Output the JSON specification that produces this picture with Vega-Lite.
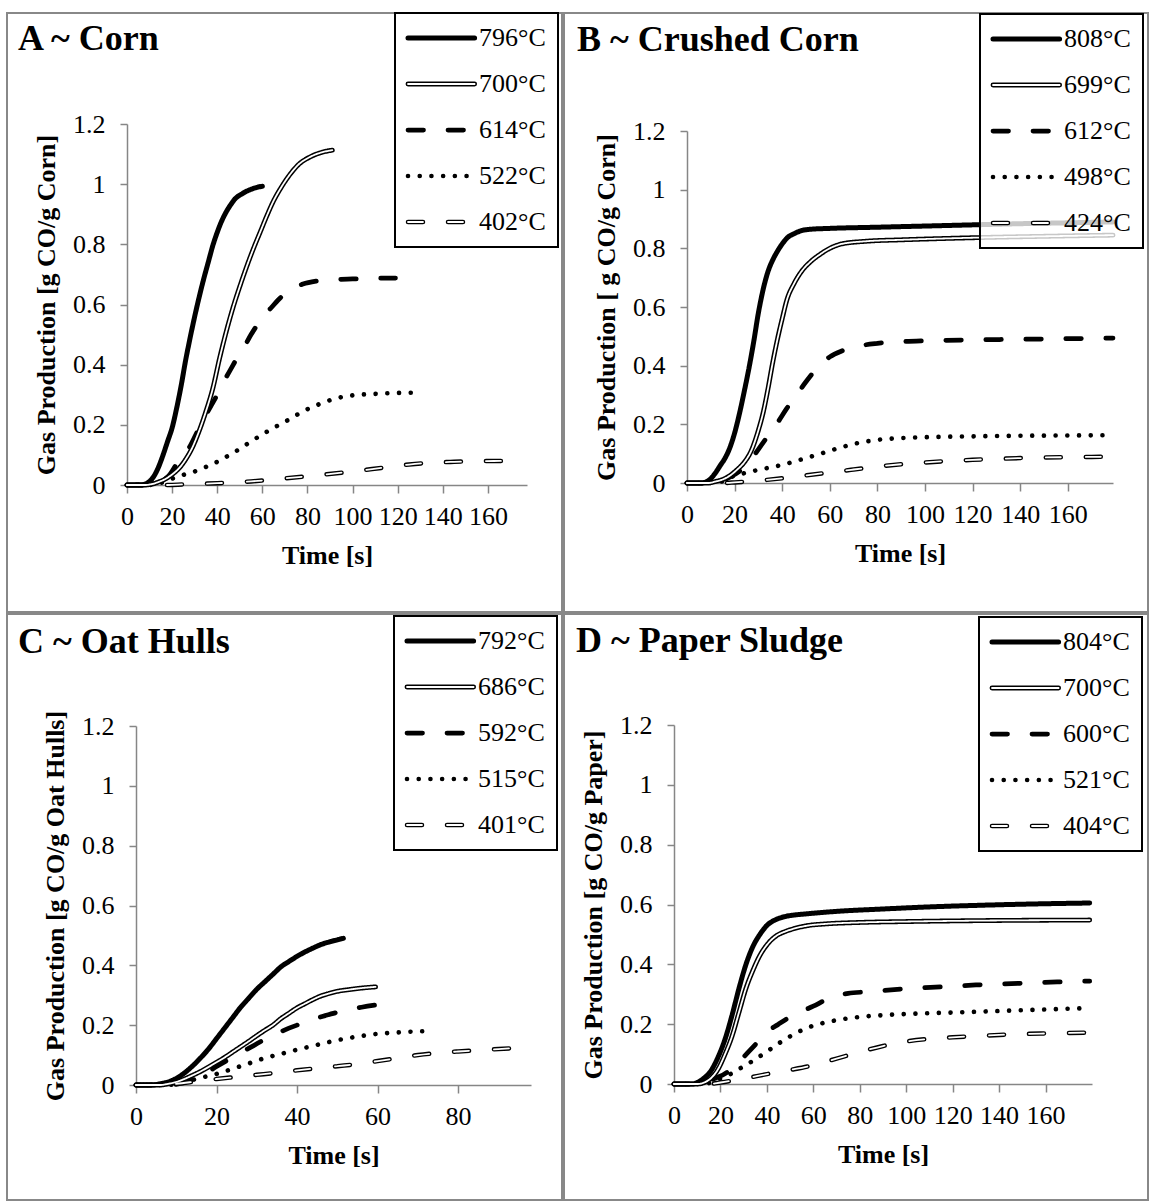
{
"$schema": "https://vega.github.io/schema/vega-lite/v6.json",
"padding": {"left": 6, "top": 11, "right": 0, "bottom": 0},
"background": "white",
"data": {"name": "gas"},
"datasets": {"gas": [
{"p":"A","s":"796°C","t":0,"v":0},{"p":"A","s":"796°C","t":6,"v":0},{"p":"A","s":"796°C","t":8,"v":0.003},{"p":"A","s":"796°C","t":10,"v":0.012},{"p":"A","s":"796°C","t":12,"v":0.03},{"p":"A","s":"796°C","t":14,"v":0.06},{"p":"A","s":"796°C","t":16,"v":0.1},{"p":"A","s":"796°C","t":18,"v":0.145},{"p":"A","s":"796°C","t":20,"v":0.19},{"p":"A","s":"796°C","t":22,"v":0.255},{"p":"A","s":"796°C","t":24,"v":0.33},{"p":"A","s":"796°C","t":26,"v":0.415},{"p":"A","s":"796°C","t":28,"v":0.49},{"p":"A","s":"796°C","t":30,"v":0.56},{"p":"A","s":"796°C","t":32,"v":0.625},{"p":"A","s":"796°C","t":34,"v":0.685},{"p":"A","s":"796°C","t":36,"v":0.74},{"p":"A","s":"796°C","t":38,"v":0.795},{"p":"A","s":"796°C","t":40,"v":0.84},{"p":"A","s":"796°C","t":42,"v":0.878},{"p":"A","s":"796°C","t":44,"v":0.908},{"p":"A","s":"796°C","t":46,"v":0.932},{"p":"A","s":"796°C","t":48,"v":0.952},{"p":"A","s":"796°C","t":51,"v":0.968},{"p":"A","s":"796°C","t":54,"v":0.98},{"p":"A","s":"796°C","t":57,"v":0.988},{"p":"A","s":"796°C","t":60,"v":0.993},
{"p":"A","s":"700°C","t":0,"v":0},{"p":"A","s":"700°C","t":8,"v":0},{"p":"A","s":"700°C","t":11,"v":0.003},{"p":"A","s":"700°C","t":14,"v":0.01},{"p":"A","s":"700°C","t":17,"v":0.02},{"p":"A","s":"700°C","t":20,"v":0.035},{"p":"A","s":"700°C","t":23,"v":0.055},{"p":"A","s":"700°C","t":26,"v":0.085},{"p":"A","s":"700°C","t":29,"v":0.125},{"p":"A","s":"700°C","t":32,"v":0.18},{"p":"A","s":"700°C","t":35,"v":0.245},{"p":"A","s":"700°C","t":38,"v":0.32},{"p":"A","s":"700°C","t":41,"v":0.42},{"p":"A","s":"700°C","t":44,"v":0.51},{"p":"A","s":"700°C","t":47,"v":0.59},{"p":"A","s":"700°C","t":50,"v":0.66},{"p":"A","s":"700°C","t":53,"v":0.725},{"p":"A","s":"700°C","t":56,"v":0.785},{"p":"A","s":"700°C","t":59,"v":0.84},{"p":"A","s":"700°C","t":62,"v":0.895},{"p":"A","s":"700°C","t":65,"v":0.945},{"p":"A","s":"700°C","t":68,"v":0.985},{"p":"A","s":"700°C","t":72,"v":1.03},{"p":"A","s":"700°C","t":76,"v":1.065},{"p":"A","s":"700°C","t":81,"v":1.09},{"p":"A","s":"700°C","t":86,"v":1.105},{"p":"A","s":"700°C","t":91,"v":1.113},
{"p":"A","s":"614°C","t":0,"v":0},{"p":"A","s":"614°C","t":10,"v":0},{"p":"A","s":"614°C","t":13,"v":0.005},{"p":"A","s":"614°C","t":16,"v":0.015},{"p":"A","s":"614°C","t":19,"v":0.035},{"p":"A","s":"614°C","t":22,"v":0.07},{"p":"A","s":"614°C","t":25,"v":0.1},{"p":"A","s":"614°C","t":28,"v":0.13},{"p":"A","s":"614°C","t":31,"v":0.175},{"p":"A","s":"614°C","t":34,"v":0.22},{"p":"A","s":"614°C","t":37,"v":0.26},{"p":"A","s":"614°C","t":40,"v":0.3},{"p":"A","s":"614°C","t":43,"v":0.345},{"p":"A","s":"614°C","t":46,"v":0.385},{"p":"A","s":"614°C","t":49,"v":0.425},{"p":"A","s":"614°C","t":52,"v":0.46},{"p":"A","s":"614°C","t":55,"v":0.5},{"p":"A","s":"614°C","t":58,"v":0.535},{"p":"A","s":"614°C","t":61,"v":0.565},{"p":"A","s":"614°C","t":64,"v":0.59},{"p":"A","s":"614°C","t":67,"v":0.615},{"p":"A","s":"614°C","t":70,"v":0.635},{"p":"A","s":"614°C","t":74,"v":0.655},{"p":"A","s":"614°C","t":78,"v":0.668},{"p":"A","s":"614°C","t":84,"v":0.678},{"p":"A","s":"614°C","t":92,"v":0.683},{"p":"A","s":"614°C","t":100,"v":0.685},{"p":"A","s":"614°C","t":110,"v":0.687},{"p":"A","s":"614°C","t":119,"v":0.688},
{"p":"A","s":"522°C","t":0,"v":0},{"p":"A","s":"522°C","t":10,"v":0},{"p":"A","s":"522°C","t":14,"v":0.005},{"p":"A","s":"522°C","t":18,"v":0.015},{"p":"A","s":"522°C","t":22,"v":0.027},{"p":"A","s":"522°C","t":26,"v":0.036},{"p":"A","s":"522°C","t":30,"v":0.045},{"p":"A","s":"522°C","t":35,"v":0.06},{"p":"A","s":"522°C","t":40,"v":0.077},{"p":"A","s":"522°C","t":45,"v":0.098},{"p":"A","s":"522°C","t":50,"v":0.12},{"p":"A","s":"522°C","t":55,"v":0.145},{"p":"A","s":"522°C","t":60,"v":0.168},{"p":"A","s":"522°C","t":65,"v":0.19},{"p":"A","s":"522°C","t":70,"v":0.21},{"p":"A","s":"522°C","t":75,"v":0.232},{"p":"A","s":"522°C","t":80,"v":0.252},{"p":"A","s":"522°C","t":85,"v":0.268},{"p":"A","s":"522°C","t":90,"v":0.282},{"p":"A","s":"522°C","t":95,"v":0.292},{"p":"A","s":"522°C","t":100,"v":0.298},{"p":"A","s":"522°C","t":110,"v":0.303},{"p":"A","s":"522°C","t":120,"v":0.306},{"p":"A","s":"522°C","t":129,"v":0.307},
{"p":"A","s":"402°C","t":0,"v":0},{"p":"A","s":"402°C","t":18,"v":0},{"p":"A","s":"402°C","t":25,"v":0.002},{"p":"A","s":"402°C","t":40,"v":0.006},{"p":"A","s":"402°C","t":55,"v":0.012},{"p":"A","s":"402°C","t":70,"v":0.022},{"p":"A","s":"402°C","t":85,"v":0.033},{"p":"A","s":"402°C","t":100,"v":0.045},{"p":"A","s":"402°C","t":115,"v":0.059},{"p":"A","s":"402°C","t":125,"v":0.068},{"p":"A","s":"402°C","t":135,"v":0.074},{"p":"A","s":"402°C","t":145,"v":0.077},{"p":"A","s":"402°C","t":155,"v":0.079},{"p":"A","s":"402°C","t":169,"v":0.08},
{"p":"B","s":"808°C","t":0,"v":0},{"p":"B","s":"808°C","t":6,"v":0},{"p":"B","s":"808°C","t":8,"v":0.004},{"p":"B","s":"808°C","t":10,"v":0.015},{"p":"B","s":"808°C","t":12,"v":0.035},{"p":"B","s":"808°C","t":14,"v":0.06},{"p":"B","s":"808°C","t":16,"v":0.085},{"p":"B","s":"808°C","t":18,"v":0.12},{"p":"B","s":"808°C","t":20,"v":0.17},{"p":"B","s":"808°C","t":22,"v":0.235},{"p":"B","s":"808°C","t":24,"v":0.31},{"p":"B","s":"808°C","t":26,"v":0.39},{"p":"B","s":"808°C","t":28,"v":0.48},{"p":"B","s":"808°C","t":30,"v":0.58},{"p":"B","s":"808°C","t":32,"v":0.66},{"p":"B","s":"808°C","t":34,"v":0.72},{"p":"B","s":"808°C","t":36,"v":0.76},{"p":"B","s":"808°C","t":38,"v":0.79},{"p":"B","s":"808°C","t":40,"v":0.815},{"p":"B","s":"808°C","t":42,"v":0.835},{"p":"B","s":"808°C","t":45,"v":0.85},{"p":"B","s":"808°C","t":48,"v":0.86},{"p":"B","s":"808°C","t":52,"v":0.865},{"p":"B","s":"808°C","t":60,"v":0.868},{"p":"B","s":"808°C","t":80,"v":0.872},{"p":"B","s":"808°C","t":100,"v":0.876},{"p":"B","s":"808°C","t":120,"v":0.88},{"p":"B","s":"808°C","t":140,"v":0.884},{"p":"B","s":"808°C","t":160,"v":0.887},{"p":"B","s":"808°C","t":179,"v":0.89},
{"p":"B","s":"699°C","t":0,"v":0},{"p":"B","s":"699°C","t":9,"v":0},{"p":"B","s":"699°C","t":12,"v":0.005},{"p":"B","s":"699°C","t":15,"v":0.012},{"p":"B","s":"699°C","t":18,"v":0.025},{"p":"B","s":"699°C","t":21,"v":0.045},{"p":"B","s":"699°C","t":24,"v":0.07},{"p":"B","s":"699°C","t":27,"v":0.11},{"p":"B","s":"699°C","t":30,"v":0.18},{"p":"B","s":"699°C","t":32,"v":0.24},{"p":"B","s":"699°C","t":34,"v":0.32},{"p":"B","s":"699°C","t":36,"v":0.41},{"p":"B","s":"699°C","t":38,"v":0.49},{"p":"B","s":"699°C","t":40,"v":0.56},{"p":"B","s":"699°C","t":42,"v":0.625},{"p":"B","s":"699°C","t":45,"v":0.68},{"p":"B","s":"699°C","t":48,"v":0.72},{"p":"B","s":"699°C","t":52,"v":0.755},{"p":"B","s":"699°C","t":56,"v":0.78},{"p":"B","s":"699°C","t":60,"v":0.8},{"p":"B","s":"699°C","t":65,"v":0.815},{"p":"B","s":"699°C","t":75,"v":0.824},{"p":"B","s":"699°C","t":90,"v":0.829},{"p":"B","s":"699°C","t":110,"v":0.834},{"p":"B","s":"699°C","t":130,"v":0.838},{"p":"B","s":"699°C","t":150,"v":0.841},{"p":"B","s":"699°C","t":179,"v":0.845},
{"p":"B","s":"612°C","t":0,"v":0},{"p":"B","s":"612°C","t":10,"v":0},{"p":"B","s":"612°C","t":14,"v":0.005},{"p":"B","s":"612°C","t":18,"v":0.02},{"p":"B","s":"612°C","t":22,"v":0.04},{"p":"B","s":"612°C","t":26,"v":0.07},{"p":"B","s":"612°C","t":30,"v":0.115},{"p":"B","s":"612°C","t":34,"v":0.16},{"p":"B","s":"612°C","t":38,"v":0.205},{"p":"B","s":"612°C","t":42,"v":0.255},{"p":"B","s":"612°C","t":46,"v":0.3},{"p":"B","s":"612°C","t":50,"v":0.345},{"p":"B","s":"612°C","t":55,"v":0.395},{"p":"B","s":"612°C","t":60,"v":0.43},{"p":"B","s":"612°C","t":65,"v":0.45},{"p":"B","s":"612°C","t":70,"v":0.463},{"p":"B","s":"612°C","t":80,"v":0.476},{"p":"B","s":"612°C","t":90,"v":0.482},{"p":"B","s":"612°C","t":100,"v":0.485},{"p":"B","s":"612°C","t":120,"v":0.488},{"p":"B","s":"612°C","t":140,"v":0.49},{"p":"B","s":"612°C","t":160,"v":0.492},{"p":"B","s":"612°C","t":179,"v":0.494},
{"p":"B","s":"498°C","t":0,"v":0},{"p":"B","s":"498°C","t":12,"v":0},{"p":"B","s":"498°C","t":16,"v":0.01},{"p":"B","s":"498°C","t":20,"v":0.025},{"p":"B","s":"498°C","t":25,"v":0.035},{"p":"B","s":"498°C","t":30,"v":0.045},{"p":"B","s":"498°C","t":35,"v":0.053},{"p":"B","s":"498°C","t":40,"v":0.062},{"p":"B","s":"498°C","t":45,"v":0.073},{"p":"B","s":"498°C","t":50,"v":0.085},{"p":"B","s":"498°C","t":55,"v":0.097},{"p":"B","s":"498°C","t":60,"v":0.11},{"p":"B","s":"498°C","t":65,"v":0.122},{"p":"B","s":"498°C","t":70,"v":0.133},{"p":"B","s":"498°C","t":75,"v":0.141},{"p":"B","s":"498°C","t":80,"v":0.147},{"p":"B","s":"498°C","t":90,"v":0.153},{"p":"B","s":"498°C","t":100,"v":0.156},{"p":"B","s":"498°C","t":120,"v":0.159},{"p":"B","s":"498°C","t":140,"v":0.161},{"p":"B","s":"498°C","t":160,"v":0.162},{"p":"B","s":"498°C","t":179,"v":0.163},
{"p":"B","s":"424°C","t":0,"v":0},{"p":"B","s":"424°C","t":15,"v":0},{"p":"B","s":"424°C","t":20,"v":0.002},{"p":"B","s":"424°C","t":30,"v":0.008},{"p":"B","s":"424°C","t":40,"v":0.016},{"p":"B","s":"424°C","t":50,"v":0.026},{"p":"B","s":"424°C","t":60,"v":0.036},{"p":"B","s":"424°C","t":70,"v":0.046},{"p":"B","s":"424°C","t":80,"v":0.056},{"p":"B","s":"424°C","t":90,"v":0.064},{"p":"B","s":"424°C","t":100,"v":0.07},{"p":"B","s":"424°C","t":110,"v":0.075},{"p":"B","s":"424°C","t":120,"v":0.079},{"p":"B","s":"424°C","t":130,"v":0.082},{"p":"B","s":"424°C","t":140,"v":0.085},{"p":"B","s":"424°C","t":150,"v":0.087},{"p":"B","s":"424°C","t":160,"v":0.088},{"p":"B","s":"424°C","t":170,"v":0.089},{"p":"B","s":"424°C","t":179,"v":0.09},
{"p":"C","s":"792°C","t":0,"v":0},{"p":"C","s":"792°C","t":4,"v":0},{"p":"C","s":"792°C","t":6,"v":0.004},{"p":"C","s":"792°C","t":8,"v":0.01},{"p":"C","s":"792°C","t":10,"v":0.022},{"p":"C","s":"792°C","t":12,"v":0.04},{"p":"C","s":"792°C","t":14,"v":0.063},{"p":"C","s":"792°C","t":16,"v":0.09},{"p":"C","s":"792°C","t":18,"v":0.12},{"p":"C","s":"792°C","t":20,"v":0.155},{"p":"C","s":"792°C","t":22,"v":0.19},{"p":"C","s":"792°C","t":24,"v":0.225},{"p":"C","s":"792°C","t":26,"v":0.26},{"p":"C","s":"792°C","t":28,"v":0.29},{"p":"C","s":"792°C","t":30,"v":0.32},{"p":"C","s":"792°C","t":32,"v":0.345},{"p":"C","s":"792°C","t":34,"v":0.37},{"p":"C","s":"792°C","t":36,"v":0.395},{"p":"C","s":"792°C","t":38,"v":0.413},{"p":"C","s":"792°C","t":40,"v":0.43},{"p":"C","s":"792°C","t":42,"v":0.445},{"p":"C","s":"792°C","t":44,"v":0.458},{"p":"C","s":"792°C","t":46,"v":0.47},{"p":"C","s":"792°C","t":48,"v":0.478},{"p":"C","s":"792°C","t":50,"v":0.485},{"p":"C","s":"792°C","t":51.5,"v":0.49},
{"p":"C","s":"686°C","t":0,"v":0},{"p":"C","s":"686°C","t":6,"v":0},{"p":"C","s":"686°C","t":8,"v":0.004},{"p":"C","s":"686°C","t":10,"v":0.01},{"p":"C","s":"686°C","t":12,"v":0.02},{"p":"C","s":"686°C","t":14,"v":0.032},{"p":"C","s":"686°C","t":16,"v":0.045},{"p":"C","s":"686°C","t":18,"v":0.06},{"p":"C","s":"686°C","t":20,"v":0.076},{"p":"C","s":"686°C","t":22,"v":0.092},{"p":"C","s":"686°C","t":24,"v":0.11},{"p":"C","s":"686°C","t":26,"v":0.128},{"p":"C","s":"686°C","t":28,"v":0.146},{"p":"C","s":"686°C","t":30,"v":0.165},{"p":"C","s":"686°C","t":32,"v":0.183},{"p":"C","s":"686°C","t":34,"v":0.2},{"p":"C","s":"686°C","t":36,"v":0.222},{"p":"C","s":"686°C","t":38,"v":0.24},{"p":"C","s":"686°C","t":40,"v":0.258},{"p":"C","s":"686°C","t":42,"v":0.272},{"p":"C","s":"686°C","t":44,"v":0.286},{"p":"C","s":"686°C","t":46,"v":0.298},{"p":"C","s":"686°C","t":48,"v":0.306},{"p":"C","s":"686°C","t":50,"v":0.313},{"p":"C","s":"686°C","t":53,"v":0.319},{"p":"C","s":"686°C","t":56,"v":0.324},{"p":"C","s":"686°C","t":59.5,"v":0.328},
{"p":"C","s":"592°C","t":0,"v":0},{"p":"C","s":"592°C","t":8,"v":0},{"p":"C","s":"592°C","t":11,"v":0.005},{"p":"C","s":"592°C","t":14,"v":0.018},{"p":"C","s":"592°C","t":17,"v":0.035},{"p":"C","s":"592°C","t":20,"v":0.062},{"p":"C","s":"592°C","t":23,"v":0.085},{"p":"C","s":"592°C","t":26,"v":0.108},{"p":"C","s":"592°C","t":29,"v":0.13},{"p":"C","s":"592°C","t":32,"v":0.153},{"p":"C","s":"592°C","t":35,"v":0.172},{"p":"C","s":"592°C","t":38,"v":0.19},{"p":"C","s":"592°C","t":41,"v":0.205},{"p":"C","s":"592°C","t":44,"v":0.22},{"p":"C","s":"592°C","t":47,"v":0.232},{"p":"C","s":"592°C","t":50,"v":0.243},{"p":"C","s":"592°C","t":53,"v":0.252},{"p":"C","s":"592°C","t":56,"v":0.26},{"p":"C","s":"592°C","t":61,"v":0.27},
{"p":"C","s":"515°C","t":0,"v":0},{"p":"C","s":"515°C","t":8,"v":0},{"p":"C","s":"515°C","t":11,"v":0.008},{"p":"C","s":"515°C","t":14,"v":0.017},{"p":"C","s":"515°C","t":17,"v":0.027},{"p":"C","s":"515°C","t":20,"v":0.037},{"p":"C","s":"515°C","t":24,"v":0.054},{"p":"C","s":"515°C","t":28,"v":0.072},{"p":"C","s":"515°C","t":32,"v":0.09},{"p":"C","s":"515°C","t":36,"v":0.104},{"p":"C","s":"515°C","t":40,"v":0.118},{"p":"C","s":"515°C","t":44,"v":0.131},{"p":"C","s":"515°C","t":48,"v":0.144},{"p":"C","s":"515°C","t":52,"v":0.155},{"p":"C","s":"515°C","t":56,"v":0.164},{"p":"C","s":"515°C","t":60,"v":0.171},{"p":"C","s":"515°C","t":64,"v":0.175},{"p":"C","s":"515°C","t":68,"v":0.178},{"p":"C","s":"515°C","t":72,"v":0.18},
{"p":"C","s":"401°C","t":0,"v":0},{"p":"C","s":"401°C","t":6,"v":0},{"p":"C","s":"401°C","t":10,"v":0.004},{"p":"C","s":"401°C","t":15,"v":0.012},{"p":"C","s":"401°C","t":20,"v":0.02},{"p":"C","s":"401°C","t":25,"v":0.027},{"p":"C","s":"401°C","t":30,"v":0.034},{"p":"C","s":"401°C","t":35,"v":0.041},{"p":"C","s":"401°C","t":40,"v":0.049},{"p":"C","s":"401°C","t":45,"v":0.056},{"p":"C","s":"401°C","t":50,"v":0.063},{"p":"C","s":"401°C","t":55,"v":0.07},{"p":"C","s":"401°C","t":60,"v":0.08},{"p":"C","s":"401°C","t":65,"v":0.09},{"p":"C","s":"401°C","t":70,"v":0.1},{"p":"C","s":"401°C","t":75,"v":0.107},{"p":"C","s":"401°C","t":80,"v":0.112},{"p":"C","s":"401°C","t":85,"v":0.116},{"p":"C","s":"401°C","t":90,"v":0.12},{"p":"C","s":"401°C","t":94.5,"v":0.124},
{"p":"D","s":"804°C","t":0,"v":0},{"p":"D","s":"804°C","t":8,"v":0},{"p":"D","s":"804°C","t":10,"v":0.005},{"p":"D","s":"804°C","t":13,"v":0.02},{"p":"D","s":"804°C","t":16,"v":0.045},{"p":"D","s":"804°C","t":19,"v":0.09},{"p":"D","s":"804°C","t":22,"v":0.15},{"p":"D","s":"804°C","t":25,"v":0.23},{"p":"D","s":"804°C","t":28,"v":0.32},{"p":"D","s":"804°C","t":31,"v":0.4},{"p":"D","s":"804°C","t":34,"v":0.46},{"p":"D","s":"804°C","t":37,"v":0.5},{"p":"D","s":"804°C","t":40,"v":0.53},{"p":"D","s":"804°C","t":44,"v":0.55},{"p":"D","s":"804°C","t":48,"v":0.56},{"p":"D","s":"804°C","t":52,"v":0.565},{"p":"D","s":"804°C","t":56,"v":0.568},{"p":"D","s":"804°C","t":70,"v":0.577},{"p":"D","s":"804°C","t":90,"v":0.585},{"p":"D","s":"804°C","t":110,"v":0.592},{"p":"D","s":"804°C","t":130,"v":0.597},{"p":"D","s":"804°C","t":150,"v":0.601},{"p":"D","s":"804°C","t":179,"v":0.605},
{"p":"D","s":"700°C","t":0,"v":0},{"p":"D","s":"700°C","t":10,"v":0},{"p":"D","s":"700°C","t":13,"v":0.005},{"p":"D","s":"700°C","t":16,"v":0.02},{"p":"D","s":"700°C","t":19,"v":0.05},{"p":"D","s":"700°C","t":22,"v":0.1},{"p":"D","s":"700°C","t":25,"v":0.16},{"p":"D","s":"700°C","t":28,"v":0.24},{"p":"D","s":"700°C","t":31,"v":0.32},{"p":"D","s":"700°C","t":34,"v":0.38},{"p":"D","s":"700°C","t":37,"v":0.43},{"p":"D","s":"700°C","t":40,"v":0.465},{"p":"D","s":"700°C","t":44,"v":0.495},{"p":"D","s":"700°C","t":48,"v":0.51},{"p":"D","s":"700°C","t":52,"v":0.52},{"p":"D","s":"700°C","t":58,"v":0.53},{"p":"D","s":"700°C","t":65,"v":0.535},{"p":"D","s":"700°C","t":80,"v":0.54},{"p":"D","s":"700°C","t":100,"v":0.543},{"p":"D","s":"700°C","t":130,"v":0.546},{"p":"D","s":"700°C","t":179,"v":0.548},
{"p":"D","s":"600°C","t":0,"v":0},{"p":"D","s":"600°C","t":12,"v":0},{"p":"D","s":"600°C","t":15,"v":0.01},{"p":"D","s":"600°C","t":18,"v":0.02},{"p":"D","s":"600°C","t":21,"v":0.03},{"p":"D","s":"600°C","t":24,"v":0.045},{"p":"D","s":"600°C","t":27,"v":0.065},{"p":"D","s":"600°C","t":30,"v":0.09},{"p":"D","s":"600°C","t":33,"v":0.115},{"p":"D","s":"600°C","t":36,"v":0.14},{"p":"D","s":"600°C","t":39,"v":0.165},{"p":"D","s":"600°C","t":42,"v":0.185},{"p":"D","s":"600°C","t":45,"v":0.2},{"p":"D","s":"600°C","t":48,"v":0.215},{"p":"D","s":"600°C","t":51,"v":0.23},{"p":"D","s":"600°C","t":54,"v":0.24},{"p":"D","s":"600°C","t":57,"v":0.25},{"p":"D","s":"600°C","t":60,"v":0.26},{"p":"D","s":"600°C","t":65,"v":0.28},{"p":"D","s":"600°C","t":70,"v":0.295},{"p":"D","s":"600°C","t":75,"v":0.303},{"p":"D","s":"600°C","t":83,"v":0.308},{"p":"D","s":"600°C","t":99,"v":0.318},{"p":"D","s":"600°C","t":115,"v":0.325},{"p":"D","s":"600°C","t":130,"v":0.331},{"p":"D","s":"600°C","t":150,"v":0.337},{"p":"D","s":"600°C","t":165,"v":0.341},{"p":"D","s":"600°C","t":179,"v":0.344},
{"p":"D","s":"521°C","t":0,"v":0},{"p":"D","s":"521°C","t":12,"v":0},{"p":"D","s":"521°C","t":16,"v":0.005},{"p":"D","s":"521°C","t":20,"v":0.018},{"p":"D","s":"521°C","t":24,"v":0.032},{"p":"D","s":"521°C","t":28,"v":0.05},{"p":"D","s":"521°C","t":32,"v":0.068},{"p":"D","s":"521°C","t":36,"v":0.088},{"p":"D","s":"521°C","t":40,"v":0.108},{"p":"D","s":"521°C","t":44,"v":0.13},{"p":"D","s":"521°C","t":48,"v":0.15},{"p":"D","s":"521°C","t":52,"v":0.168},{"p":"D","s":"521°C","t":56,"v":0.183},{"p":"D","s":"521°C","t":60,"v":0.195},{"p":"D","s":"521°C","t":66,"v":0.207},{"p":"D","s":"521°C","t":72,"v":0.216},{"p":"D","s":"521°C","t":80,"v":0.224},{"p":"D","s":"521°C","t":90,"v":0.23},{"p":"D","s":"521°C","t":100,"v":0.234},{"p":"D","s":"521°C","t":120,"v":0.239},{"p":"D","s":"521°C","t":140,"v":0.244},{"p":"D","s":"521°C","t":160,"v":0.249},{"p":"D","s":"521°C","t":179,"v":0.254},
{"p":"D","s":"404°C","t":0,"v":0},{"p":"D","s":"404°C","t":15,"v":0},{"p":"D","s":"404°C","t":20,"v":0.005},{"p":"D","s":"404°C","t":30,"v":0.018},{"p":"D","s":"404°C","t":40,"v":0.033},{"p":"D","s":"404°C","t":50,"v":0.047},{"p":"D","s":"404°C","t":60,"v":0.063},{"p":"D","s":"404°C","t":70,"v":0.085},{"p":"D","s":"404°C","t":80,"v":0.107},{"p":"D","s":"404°C","t":90,"v":0.127},{"p":"D","s":"404°C","t":100,"v":0.142},{"p":"D","s":"404°C","t":110,"v":0.151},{"p":"D","s":"404°C","t":120,"v":0.156},{"p":"D","s":"404°C","t":130,"v":0.16},{"p":"D","s":"404°C","t":140,"v":0.164},{"p":"D","s":"404°C","t":150,"v":0.167},{"p":"D","s":"404°C","t":160,"v":0.169},{"p":"D","s":"404°C","t":179,"v":0.172}
]},
"vconcat": [
{"hconcat": [
{"width": 555, "height": 599,
 "title": {"text": "A ~ Corn", "dx": 11, "dy": 50},
 "transform": [{"filter": "datum.p === 'A'"}],
 "layer": [
  {"mark": {"type": "line", "interpolate": "monotone", "color": "black", "strokeCap": "round", "strokeJoin": "round"},
   "encoding": {
    "x": {"field": "t", "type": "quantitative", "scale": {"domain": [0, 177.3], "range": [120, 520], "nice": false, "zero": false}, "axis": {"values": [0,20,40,60,80,100,120,140,160], "offset": -127, "title": "Time [s]"}},
    "y": {"field": "v", "type": "quantitative", "scale": {"domain": [0, 1.2], "range": [472, 111], "nice": false}, "axis": {"values": [0,0.2,0.4,0.6,0.8,1,1.2], "format": "~g", "offset": -120, "title": "Gas Production [g CO/g Corn]"}},
    "strokeDash": {"field": "s", "type": "nominal", "scale": {"domain": ["796°C","700°C","614°C","522°C","402°C"], "range": [[1,0],[1,0],[15.5,24.5],[0.01,11.7],[15,25]]},
      "legend": {"orient": "none", "legendX": 388, "legendY": 0, "title": null, "fillColor": "rgba(255,255,255,0.78)", "strokeColor": "black", "symbolStrokeColor": "black", "symbolStrokeWidth": 5, "encode": {"symbols": {"update": {"strokeCap": {"value": "round"}}}}}},
    "strokeWidth": {"field": "s", "type": "ordinal", "scale": {"domain": ["796°C","700°C","614°C","522°C","402°C"], "range": [5, 4.5, 5.5, 5, 5]}, "legend": null}
   }},
  {"transform": [{"filter": {"field": "s", "oneOf": ["700°C","402°C"]}}],
   "mark": {"type": "line", "interpolate": "monotone", "strokeWidth": 1.8, "strokeCap": "round", "strokeJoin": "round"},
   "encoding": {
    "x": {"field": "t", "type": "quantitative", "scale": {"domain": [0, 177.3], "range": [120, 520], "nice": false, "zero": false}},
    "y": {"field": "v", "type": "quantitative", "scale": {"domain": [0, 1.2], "range": [472, 111], "nice": false}},
    "stroke": {"field": "s", "type": "nominal", "scale": {"domain": ["796°C","700°C","614°C","522°C","402°C"], "range": ["transparent","white","transparent","transparent","white"]},
      "legend": {"orient": "none", "legendX": 388, "legendY": 0, "title": null, "fillColor": "transparent", "strokeColor": "transparent", "labelOpacity": 0, "symbolStrokeWidth": 1.8, "encode": {"symbols": {"update": {"strokeCap": {"value": "round"}}}}}},
    "strokeDash": {"field": "s", "type": "nominal", "scale": {"domain": ["796°C","700°C","614°C","522°C","402°C"], "range": [[1,0],[1,0],[15.5,24.5],[0.01,11.7],[15,25]]},
      "legend": {"orient": "none", "legendX": 388, "legendY": 0, "title": null, "fillColor": "transparent", "strokeColor": "transparent", "labelOpacity": 0, "symbolStrokeWidth": 1.8, "encode": {"symbols": {"update": {"strokeCap": {"value": "round"}}}}}}
   }}
 ],
 "resolve": {"scale": {"strokeDash": "independent", "stroke": "independent", "strokeWidth": "independent"}}
},
{"width": 584, "height": 599,
 "title": {"text": "B ~ Crushed Corn", "dx": 13, "dy": 50},
 "transform": [{"filter": "datum.p === 'B'"}],
 "layer": [
  {"mark": {"type": "line", "interpolate": "monotone", "color": "black", "strokeCap": "round", "strokeJoin": "round"},
   "encoding": {
    "x": {"field": "t", "type": "quantitative", "scale": {"domain": [0, 179], "range": [123, 549], "nice": false, "zero": false}, "axis": {"values": [0,20,40,60,80,100,120,140,160], "offset": -129, "title": "Time [s]"}},
    "y": {"field": "v", "type": "quantitative", "scale": {"domain": [0, 1.2], "range": [470, 118], "nice": false}, "axis": {"values": [0,0.2,0.4,0.6,0.8,1,1.2], "format": "~g", "offset": -123, "title": "Gas Production [ g CO/g Corn]"}},
    "strokeDash": {"field": "s", "type": "nominal", "scale": {"domain": ["808°C","699°C","612°C","498°C","424°C"], "range": [[1,0],[1,0],[15.5,24.5],[0.01,11.7],[15,25]]},
      "legend": {"orient": "none", "legendX": 416, "legendY": 1, "title": null, "fillColor": "rgba(255,255,255,0.78)", "strokeColor": "black", "symbolStrokeColor": "black", "symbolStrokeWidth": 5, "encode": {"symbols": {"update": {"strokeCap": {"value": "round"}}}}}},
    "strokeWidth": {"field": "s", "type": "ordinal", "scale": {"domain": ["808°C","699°C","612°C","498°C","424°C"], "range": [5, 4.5, 5.5, 5, 5]}, "legend": null}
   }},
  {"transform": [{"filter": {"field": "s", "oneOf": ["699°C","424°C"]}}],
   "mark": {"type": "line", "interpolate": "monotone", "strokeWidth": 1.8, "strokeCap": "round", "strokeJoin": "round"},
   "encoding": {
    "x": {"field": "t", "type": "quantitative", "scale": {"domain": [0, 179], "range": [123, 549], "nice": false, "zero": false}},
    "y": {"field": "v", "type": "quantitative", "scale": {"domain": [0, 1.2], "range": [470, 118], "nice": false}},
    "stroke": {"field": "s", "type": "nominal", "scale": {"domain": ["808°C","699°C","612°C","498°C","424°C"], "range": ["transparent","white","transparent","transparent","white"]},
      "legend": {"orient": "none", "legendX": 416, "legendY": 1, "title": null, "fillColor": "transparent", "strokeColor": "transparent", "labelOpacity": 0, "symbolStrokeWidth": 1.8, "encode": {"symbols": {"update": {"strokeCap": {"value": "round"}}}}}},
    "strokeDash": {"field": "s", "type": "nominal", "scale": {"domain": ["808°C","699°C","612°C","498°C","424°C"], "range": [[1,0],[1,0],[15.5,24.5],[0.01,11.7],[15,25]]},
      "legend": {"orient": "none", "legendX": 416, "legendY": 1, "title": null, "fillColor": "transparent", "strokeColor": "transparent", "labelOpacity": 0, "symbolStrokeWidth": 1.8, "encode": {"symbols": {"update": {"strokeCap": {"value": "round"}}}}}}
   }}
 ],
 "resolve": {"scale": {"strokeDash": "independent", "stroke": "independent", "strokeWidth": "independent"}}
}
], "spacing": 0},
{"hconcat": [
{"width": 555, "height": 586,
 "title": {"text": "C ~ Oat Hulls", "dx": 11, "dy": 51},
 "transform": [{"filter": "datum.p === 'C'"}],
 "layer": [
  {"mark": {"type": "line", "interpolate": "monotone", "color": "black", "strokeCap": "round", "strokeJoin": "round"},
   "encoding": {
    "x": {"field": "t", "type": "quantitative", "scale": {"domain": [0, 98.1], "range": [129, 524], "nice": false, "zero": false}, "axis": {"values": [0,20,40,60,80], "offset": -115, "title": "Time [s]"}},
    "y": {"field": "v", "type": "quantitative", "scale": {"domain": [0, 1.2], "range": [471, 112], "nice": false}, "axis": {"values": [0,0.2,0.4,0.6,0.8,1,1.2], "format": "~g", "offset": -129, "title": "Gas Production [g CO/g Oat Hulls]"}},
    "strokeDash": {"field": "s", "type": "nominal", "scale": {"domain": ["792°C","686°C","592°C","515°C","401°C"], "range": [[1,0],[1,0],[15.5,24.5],[0.01,11.7],[15,25]]},
      "legend": {"orient": "none", "legendX": 387, "legendY": 2, "title": null, "fillColor": "rgba(255,255,255,0.78)", "strokeColor": "black", "symbolStrokeColor": "black", "symbolStrokeWidth": 5, "encode": {"symbols": {"update": {"strokeCap": {"value": "round"}}}}}},
    "strokeWidth": {"field": "s", "type": "ordinal", "scale": {"domain": ["792°C","686°C","592°C","515°C","401°C"], "range": [5, 4.5, 5.5, 5, 5]}, "legend": null}
   }},
  {"transform": [{"filter": {"field": "s", "oneOf": ["686°C","401°C"]}}],
   "mark": {"type": "line", "interpolate": "monotone", "strokeWidth": 1.8, "strokeCap": "round", "strokeJoin": "round"},
   "encoding": {
    "x": {"field": "t", "type": "quantitative", "scale": {"domain": [0, 98.1], "range": [129, 524], "nice": false, "zero": false}},
    "y": {"field": "v", "type": "quantitative", "scale": {"domain": [0, 1.2], "range": [471, 112], "nice": false}},
    "stroke": {"field": "s", "type": "nominal", "scale": {"domain": ["792°C","686°C","592°C","515°C","401°C"], "range": ["transparent","white","transparent","transparent","white"]},
      "legend": {"orient": "none", "legendX": 387, "legendY": 2, "title": null, "fillColor": "transparent", "strokeColor": "transparent", "labelOpacity": 0, "symbolStrokeWidth": 1.8, "encode": {"symbols": {"update": {"strokeCap": {"value": "round"}}}}}},
    "strokeDash": {"field": "s", "type": "nominal", "scale": {"domain": ["792°C","686°C","592°C","515°C","401°C"], "range": [[1,0],[1,0],[15.5,24.5],[0.01,11.7],[15,25]]},
      "legend": {"orient": "none", "legendX": 387, "legendY": 2, "title": null, "fillColor": "transparent", "strokeColor": "transparent", "labelOpacity": 0, "symbolStrokeWidth": 1.8, "encode": {"symbols": {"update": {"strokeCap": {"value": "round"}}}}}}
   }}
 ],
 "resolve": {"scale": {"strokeDash": "independent", "stroke": "independent", "strokeWidth": "independent"}}
},
{"width": 584, "height": 586,
 "title": {"text": "D ~ Paper Sludge", "dx": 12, "dy": 50},
 "transform": [{"filter": "datum.p === 'D'"}],
 "layer": [
  {"mark": {"type": "line", "interpolate": "monotone", "color": "black", "strokeCap": "round", "strokeJoin": "round"},
   "encoding": {
    "x": {"field": "t", "type": "quantitative", "scale": {"domain": [0, 180], "range": [110, 528], "nice": false, "zero": false}, "axis": {"values": [0,20,40,60,80,100,120,140,160], "offset": -116, "title": "Time [s]"}},
    "y": {"field": "v", "type": "quantitative", "scale": {"domain": [0, 1.2], "range": [470, 111], "nice": false}, "axis": {"values": [0,0.2,0.4,0.6,0.8,1,1.2], "format": "~g", "offset": -110, "title": "Gas Production [g CO/g Paper]"}},
    "strokeDash": {"field": "s", "type": "nominal", "scale": {"domain": ["804°C","700°C","600°C","521°C","404°C"], "range": [[1,0],[1,0],[15.5,24.5],[0.01,11.7],[15,25]]},
      "legend": {"orient": "none", "legendX": 415, "legendY": 3, "title": null, "fillColor": "rgba(255,255,255,0.78)", "strokeColor": "black", "symbolStrokeColor": "black", "symbolStrokeWidth": 5, "encode": {"symbols": {"update": {"strokeCap": {"value": "round"}}}}}},
    "strokeWidth": {"field": "s", "type": "ordinal", "scale": {"domain": ["804°C","700°C","600°C","521°C","404°C"], "range": [5, 4.5, 5.5, 5, 5]}, "legend": null}
   }},
  {"transform": [{"filter": {"field": "s", "oneOf": ["700°C","404°C"]}}],
   "mark": {"type": "line", "interpolate": "monotone", "strokeWidth": 1.8, "strokeCap": "round", "strokeJoin": "round"},
   "encoding": {
    "x": {"field": "t", "type": "quantitative", "scale": {"domain": [0, 180], "range": [110, 528], "nice": false, "zero": false}},
    "y": {"field": "v", "type": "quantitative", "scale": {"domain": [0, 1.2], "range": [470, 111], "nice": false}},
    "stroke": {"field": "s", "type": "nominal", "scale": {"domain": ["804°C","700°C","600°C","521°C","404°C"], "range": ["transparent","white","transparent","transparent","white"]},
      "legend": {"orient": "none", "legendX": 415, "legendY": 3, "title": null, "fillColor": "transparent", "strokeColor": "transparent", "labelOpacity": 0, "symbolStrokeWidth": 1.8, "encode": {"symbols": {"update": {"strokeCap": {"value": "round"}}}}}},
    "strokeDash": {"field": "s", "type": "nominal", "scale": {"domain": ["804°C","700°C","600°C","521°C","404°C"], "range": [[1,0],[1,0],[15.5,24.5],[0.01,11.7],[15,25]]},
      "legend": {"orient": "none", "legendX": 415, "legendY": 3, "title": null, "fillColor": "transparent", "strokeColor": "transparent", "labelOpacity": 0, "symbolStrokeWidth": 1.8, "encode": {"symbols": {"update": {"strokeCap": {"value": "round"}}}}}}
   }}
 ],
 "resolve": {"scale": {"strokeDash": "independent", "stroke": "independent", "strokeWidth": "independent"}}
}
], "spacing": 0}
],
"spacing": 0,
"config": {
 "font": "Liberation Serif, Times New Roman, Times, serif",
 "view": {"stroke": "#888888", "strokeWidth": 2},
 "title": {"anchor": "start", "frame": "group", "offset": 0, "baseline": "alphabetic", "font": "Liberation Serif, Times New Roman, Times, serif", "fontSize": 36, "fontWeight": "bold", "color": "black"},
 "axis": {"grid": false, "domainColor": "#868686", "domainWidth": 1.5, "tickColor": "#868686", "tickWidth": 1.5, "tickSize": 7, "labelFont": "Liberation Serif, Times New Roman, Times, serif", "labelFontSize": 26, "labelColor": "black", "labelOverlap": false, "labelBound": false, "labelFlush": false, "titleFont": "Liberation Serif, Times New Roman, Times, serif", "titleFontSize": 26, "titleFontWeight": "bold", "titleColor": "black"},
 "axisX": {"labelPadding": 10, "titlePadding": 13, "tickSize": 8},
 "axisY": {"labelPadding": 15, "titlePadding": 13},
 "legend": {"labelFont": "Liberation Serif, Times New Roman, Times, serif", "labelFontSize": 26, "labelColor": "black", "symbolType": "M-1,0H10.1", "symbolSize": 144, "symbolOffset": -6, "rowPadding": 20, "padding": 12, "labelOffset": 52, "strokeWidth": 2, "symbolFillColor": "transparent", "labelLimit": 0}
}
}
